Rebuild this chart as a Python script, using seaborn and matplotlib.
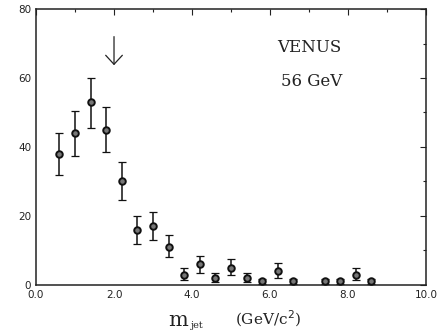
import matplotlib
matplotlib.use("Agg")
import matplotlib.pyplot as plt
import seaborn as sns
import pandas as pd

# Jet mass distribution, VENUS at 56 GeV
m_jet = [0.6, 1.0, 1.4, 1.8, 2.2, 2.6, 3.0, 3.4, 3.8, 4.2, 4.6, 5.0, 5.4, 5.8, 6.2, 6.6, 7.4, 7.8, 8.2, 8.6]
events = [38, 44, 53, 45, 30, 16, 17, 11, 3, 6, 2, 5, 2, 1, 4, 1, 1, 1, 3, 1]
err_low = [6, 6.5, 7.5, 6.5, 5.5, 4, 4, 3, 1.6, 2.6, 1.2, 2, 1.2, 0.6, 2, 0.6, 0.6, 0.6, 1.6, 0.6]
err_high = [6, 6.5, 7, 6.5, 5.5, 4, 4, 3.4, 1.8, 2.5, 1.4, 2.4, 1.4, 0.8, 2.4, 0.8, 0.8, 0.8, 1.8, 0.8]
x_ticks = [0, 2, 4, 6, 8, 10]
y_ticks = [0, 20, 40, 60, 80]
arrow_x = 2.0

df = pd.DataFrame({"m_jet": m_jet, "events": events})

sns.set_style("white")
plt.rcParams["font.family"] = ["DejaVu Sans"]

fig = plt.figure(figsize=(4.43, 3.34), dpi=100)
ax = fig.add_axes([0.0813, 0.147, 0.8803, 0.826])

ax.errorbar(m_jet, events, yerr=[err_low, err_high], fmt="none",
            ecolor="#111111", elinewidth=1.1, capsize=3.2, capthick=0.9, zorder=2)
sns.scatterplot(data=df, x="m_jet", y="events", ax=ax, marker="o", s=22,
                color="#777777", edgecolor="#111111", linewidth=1.4, zorder=3)

ax.set_xlim(0, 10)
ax.set_ylim(0, 80)
ax.set_xticks(x_ticks)
ax.set_xticklabels([f"{v:.1f}" for v in x_ticks])
ax.set_yticks(y_ticks)
ax.set_xticks([1, 3, 5, 7, 9], minor=True)
ax.set_yticks([10, 30, 50, 70], minor=True)
ax.tick_params(axis="both", which="both", direction="in", top=True, right=True,
               labelsize=7.5, colors="#222222", width=0.8)
ax.tick_params(which="major", length=4)
ax.tick_params(which="minor", length=2.5)
for s in ax.spines.values():
    s.set_color("#222222")
    s.set_linewidth(1.1)

ax.set_xlabel("")
ax.set_ylabel("")

# arrow marking the cut
ax.annotate("", xy=(arrow_x, 63.7), xytext=(arrow_x, 72),
            arrowprops=dict(arrowstyle="->,head_length=0.65,head_width=0.6",
                            color="#222222", lw=0.9, mutation_scale=10,
                            shrinkA=0, shrinkB=0))

ax.text(7.0, 68.7, "VENUS", fontsize=12, family="DejaVu Serif", color="#222222",
        ha="center", va="center")
ax.text(7.08, 58.9, "56 GeV", fontsize=12, family="DejaVu Serif", color="#222222",
        ha="center", va="center")

fig.text(0.402, 0.024, "m", fontsize=15, family="DejaVu Serif", color="#222222",
         ha="center", va="baseline")
fig.text(0.445, 0.018, "jet", fontsize=7, family="DejaVu Serif", color="#222222",
         ha="center", va="baseline")
fig.text(0.604, 0.027, "(GeV/c$^{2}$)", fontsize=11, family="DejaVu Serif", color="#222222",
         ha="center", va="baseline")

fig.savefig("out.png", dpi=100)
